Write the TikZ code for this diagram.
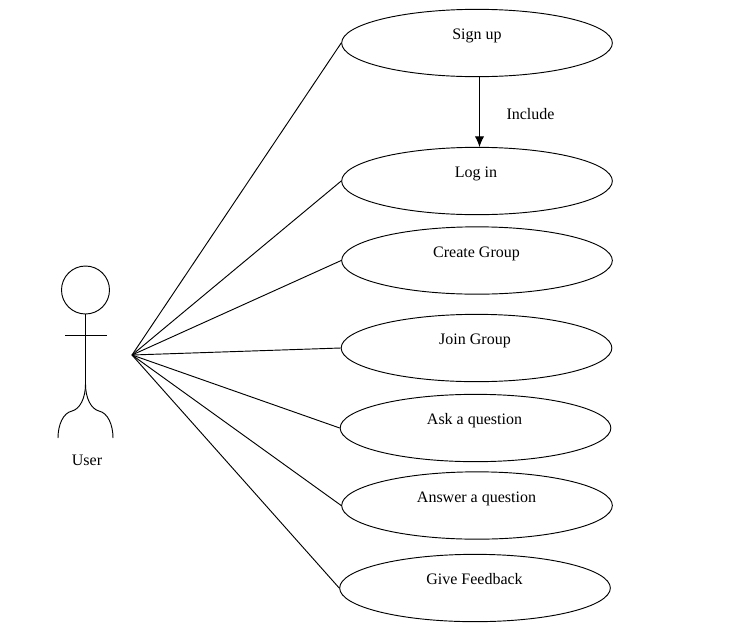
\documentclass[tikz,border=0pt]{standalone}
\usepackage{fontspec}
\setmainfont{Liberation Serif}
\usetikzlibrary{shapes.geometric,arrows.meta}
\tikzset{
  x=0.75pt,y=-0.75pt,
  usecase/.style={draw,ellipse,line width=0.7pt,minimum width=203pt,minimum height=50.5pt,inner sep=0pt},
  lbl/.style={font=\fontsize{12pt}{14pt}\selectfont,inner sep=0pt,text=black},
  conn/.style={line width=0.7pt},
}
\begin{document}
\begin{tikzpicture}
\useasboundingbox[fill=white] (0,0) rectangle (742,636);
\node[usecase] (signup) at (477,43) {};
\node[usecase] (login) at (477,181) {};
\node[usecase] (create) at (477,260.5) {};
\node[usecase] (join) at (476.5,348) {};
\node[usecase] (ask) at (475.5,428) {};
\node[usecase] (answer) at (477,505.5) {};
\node[usecase] (feedback) at (475,588) {};
\node[lbl] (tsignup) at (477,35.5) {Sign up};
\node[lbl] (tlogin) at (476,173.5) {Log in};
\node[lbl] (tcreate) at (476.5,253.5) {Create Group};
\node[lbl] (tjoin) at (475,340.5) {Join Group};
\node[lbl] (task) at (474.5,420.5) {Ask a question};
\node[lbl] (tanswer) at (476.5,498.5) {Answer a question};
\node[lbl] (tfeedback) at (474.5,579.5) {Give Feedback};
\node[lbl] (tinclude) at (530.5,114) {Include};
\node[lbl] (tuser) at (87,460) {User};
\draw[conn,-{Latex[length=8pt,width=7pt]}] (479.5,76.5) -- (479.5,147);
\coordinate (hand) at (132,355);
\foreach \t in {signup,login,create,join,ask,answer,feedback}
  \draw[conn] (hand) -- (\t.west);
\node[draw,circle,line width=0.7pt,minimum size=36pt,inner sep=0pt] (head) at (85.5,290) {};
\coordinate (hip) at (85.5,384);
\draw[conn] (head.south) -- (hip);
\draw[conn] (65,335.5) -- (107,335.5);
\draw[conn] (hip) .. controls (85.5,398) and (80,409) .. (72,411) .. controls (63,413) and (58,425) .. (58,438);
\draw[conn] (hip) .. controls (85.5,398) and (91,409) .. (99,411) .. controls (108,413) and (113,425) .. (113,438);
\end{tikzpicture}
\end{document}
